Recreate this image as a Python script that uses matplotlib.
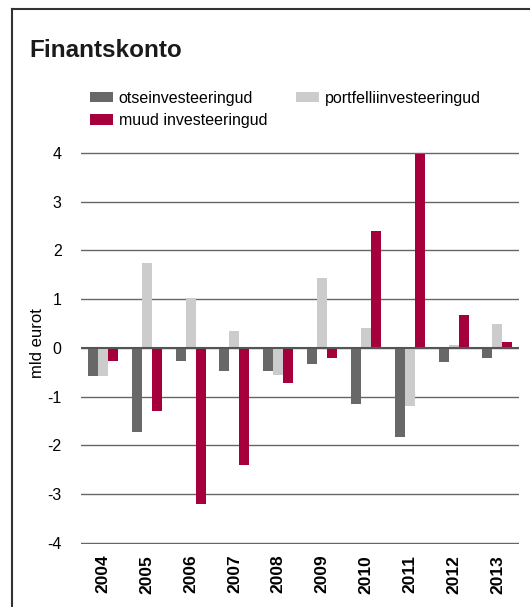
import numpy as np
import matplotlib.pyplot as plt
from matplotlib.lines import Line2D

plt.rcParams['font.family'] = ['Liberation Sans', 'DejaVu Sans']
plt.rcParams['axes.unicode_minus'] = False

years = ['2004', '2005', '2006', '2007', '2008', '2009', '2010', '2011', '2012', '2013']
otse = [-0.58, -1.73, -0.27, -0.48, -0.48, -0.33, -1.16, -1.84, -0.30, -0.20]
portfell = [-0.58, 1.75, 1.03, 0.34, -0.56, 1.43, 0.41, -1.20, 0.06, 0.48]
muud = [-0.27, -1.30, -3.20, -2.41, -0.73, -0.20, 2.39, 3.97, 0.67, 0.12]

col_otse = '#686868'
col_portfell = '#cccccc'
col_muud = '#a5003c'

fig = plt.figure(figsize=(5.30, 6.07), dpi=100)
ax = fig.add_axes([0.1528, 0.1043, 0.827, 0.6453])

x = np.arange(len(years))
w = 0.228
b1 = ax.bar(x - w, otse, w, color=col_otse, label='otseinvesteeringud', zorder=3)
b2 = ax.bar(x, portfell, w, color=col_portfell, label='portfelliinvesteeringud', zorder=3)
b3 = ax.bar(x + w, muud, w, color=col_muud, label='muud investeeringud', zorder=3)

ax.set_xlim(-0.5, len(years) - 0.5)
ax.set_ylim(-4.02, 4.02)
ax.set_yticks(range(-4, 5))
ax.yaxis.grid(True, color='#666666', linewidth=1.0, zorder=0)
ax.axhline(0, color='#555555', linewidth=1.5, zorder=4)
ax.set_xticks(x)
ax.set_xticklabels(years, rotation=90, fontweight='bold', fontsize=12.5)
ax.tick_params(axis='both', length=0)
ax.tick_params(axis='x', pad=8)
ax.tick_params(axis='y', pad=14, labelsize=11.5)
for s in ax.spines.values():
    s.set_visible(False)

fig.text(38 / 530, 1 - 343 / 607, 'mld eurot', rotation=90, fontsize=12,
         ha='center', va='center')

fig.text(29 / 530, 1 - 57 / 607, 'Finantskonto', fontsize=17.5, fontweight='bold',
         ha='left', va='baseline', color='#1a1a1a')

fig.legend([b1, b3, b2], ['otseinvesteeringud', 'muud investeeringud', 'portfelliinvesteeringud'],
           ncol=2, loc='upper left', bbox_to_anchor=(90 / 530, 1 - 91 / 607),
           frameon=False, fontsize=11.5, borderpad=0, borderaxespad=0,
           handlelength=1.44, handleheight=0.6, handletextpad=0.35,
           columnspacing=1.8, labelspacing=0.45)

# frame around the chart (top and left)
fig.add_artist(Line2D([12 / 530, 1], [1 - 8.5 / 607, 1 - 8.5 / 607],
                      transform=fig.transFigure, color='#333333', linewidth=1.5))
fig.add_artist(Line2D([12 / 530, 12 / 530], [0, 1 - 8.5 / 607],
                      transform=fig.transFigure, color='#333333', linewidth=1.5))

fig.savefig('out.png', dpi=100)
